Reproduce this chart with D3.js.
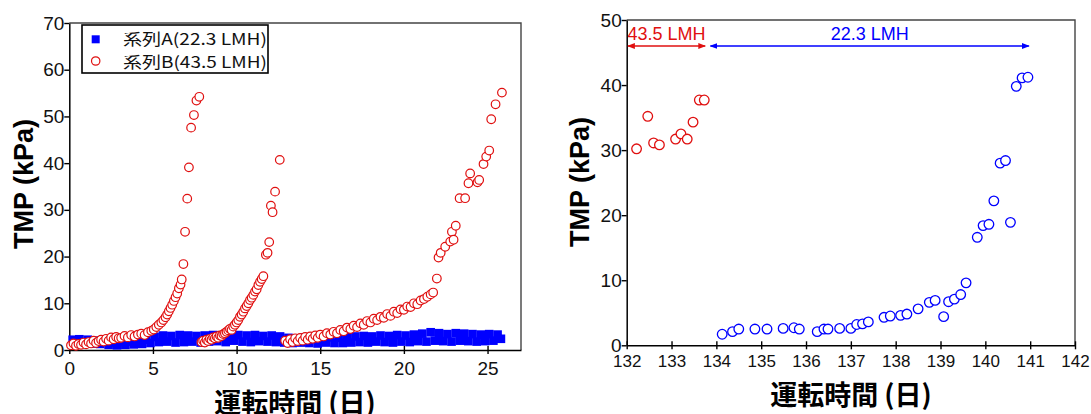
<!DOCTYPE html>
<html>
<head>
<meta charset="utf-8">
<script src="https://cdn.jsdelivr.net/npm/d3@7"></script>
<style>
  body { margin: 0; background: #fff; }
  svg text { font-family: "Liberation Sans", Arial, "Noto Sans CJK JP", sans-serif; }
</style>
</head>
<body>
<svg id="chart" width="1091" height="414"></svg>
<script>
// ---- Left panel: series A (22.3 LMH), [day, TMP kPa]
const seriesA = [
  [0.2, 2.2], [0.35, 1.5], [0.6, 2.3], [0.85, 1.6], [1.1, 2.2], [1.35, 1.4], [1.6, 2.0], [1.85, 1.3],
  [2.1, 1.8], [2.35, 1.1], [2.6, 1.6], [2.85, 1.0], [3.1, 1.7], [3.35, 1.1], [3.6, 1.8], [3.85, 1.2],
  [4.1, 1.9], [4.35, 1.3], [4.6, 2.2], [4.85, 1.5], [5.1, 2.8], [5.35, 1.7], [5.6, 3.1], [5.85, 1.8],
  [6.1, 3.0], [6.35, 1.6], [6.6, 3.2], [6.85, 1.7], [7.1, 3.1], [7.35, 1.8], [7.6, 3.0], [7.85, 1.6],
  [8.1, 3.1], [8.35, 1.8], [8.6, 3.2], [8.85, 1.9], [9.1, 3.0], [9.35, 1.7], [9.6, 3.3], [9.85, 2.0],
  [10.1, 3.2], [10.35, 1.8], [10.6, 3.1], [10.85, 1.7], [11.1, 3.2], [11.35, 1.9], [11.6, 3.0], [11.85, 1.8],
  [12.1, 3.1], [12.35, 1.7], [12.6, 2.9], [12.85, 1.6], [13.1, 2.6], [13.35, 1.5], [13.6, 2.5], [13.85, 1.6],
  [14.1, 2.7], [14.35, 1.5], [14.6, 2.5], [14.85, 1.4], [15.1, 2.6], [15.35, 1.6], [15.6, 2.7], [15.85, 1.5],
  [16.1, 2.6], [16.35, 1.5], [16.6, 2.8], [16.85, 1.6], [17.1, 2.9], [17.35, 1.7], [17.6, 3.0], [17.85, 1.6],
  [18.1, 2.9], [18.35, 1.8], [18.6, 3.1], [18.85, 1.7], [19.1, 3.0], [19.35, 1.6], [19.6, 3.2], [19.85, 1.8],
  [20.1, 3.1], [20.35, 1.7], [20.6, 3.3], [20.85, 1.9], [21.1, 3.5], [21.35, 1.8], [21.6, 3.8], [21.85, 2.0],
  [22.1, 3.6], [22.35, 1.9], [22.6, 3.4], [22.85, 1.8], [23.1, 3.6], [23.35, 2.0], [23.6, 3.5], [23.85, 1.9],
  [24.1, 3.4], [24.35, 1.8], [24.6, 3.3], [24.85, 1.9], [25.1, 3.4], [25.35, 2.0], [25.6, 3.3], [25.8, 2.4]
];

// ---- Left panel: series B (43.5 LMH), three fouling cycles
const seriesB = [
  // cycle 1
  [0.1, 1.0], [0.25, 1.4], [0.4, 0.9], [0.55, 1.3], [0.7, 1.1], [0.85, 1.6], [1.0, 1.2], [1.15, 1.7],
  [1.3, 1.4], [1.45, 2.0], [1.6, 1.5], [1.75, 1.9], [1.9, 2.2], [2.05, 1.8], [2.2, 2.4], [2.35, 2.0],
  [2.5, 2.7], [2.65, 2.3], [2.8, 2.8], [2.95, 2.5], [3.1, 2.6], [3.3, 3.0], [3.5, 2.7], [3.7, 3.2],
  [3.9, 2.9], [4.1, 3.3], [4.3, 3.5], [4.5, 3.2], [4.7, 3.8], [4.9, 4.1], [5.05, 4.4], [5.2, 4.9],
  [5.35, 5.4], [5.5, 5.9], [5.62, 6.4], [5.75, 7.0], [5.85, 7.6], [5.95, 8.3], [6.05, 9.0], [6.15, 9.7],
  [6.25, 10.5], [6.35, 11.3], [6.45, 12.1], [6.55, 13.2], [6.65, 14.0], [6.72, 15.1], [6.82, 18.4],
  [6.92, 25.3], [7.05, 32.4], [7.15, 39.1], [7.28, 47.6], [7.45, 50.3], [7.6, 53.4], [7.77, 54.2],
  // cycle 2
  [7.9, 1.7], [8.0, 2.0], [8.1, 1.6], [8.2, 2.2], [8.3, 1.9], [8.4, 2.4], [8.5, 2.2], [8.6, 2.7],
  [8.7, 2.5], [8.8, 2.9], [8.9, 2.6], [9.0, 3.1], [9.1, 3.0], [9.2, 3.4], [9.3, 3.6], [9.4, 3.9],
  [9.5, 4.2], [9.6, 4.5], [9.7, 4.3], [9.8, 5.0], [9.9, 5.4], [10.0, 5.9], [10.1, 6.4], [10.2, 7.1],
  [10.3, 7.6], [10.4, 8.2], [10.5, 8.9], [10.6, 9.4], [10.7, 10.0], [10.8, 10.7], [10.9, 11.2], [11.0, 11.8],
  [11.1, 12.5], [11.2, 13.0], [11.3, 13.9], [11.4, 14.6], [11.5, 15.2], [11.6, 15.8], [11.75, 20.4],
  [11.85, 20.8], [11.95, 23.1], [12.05, 30.9], [12.15, 29.5], [12.3, 33.9], [12.58, 40.7],
  // cycle 3
  [12.9, 2.0], [13.05, 1.5], [13.2, 2.3], [13.35, 1.7], [13.5, 2.5], [13.65, 1.9], [13.8, 2.6], [13.95, 2.0],
  [14.1, 2.8], [14.25, 2.2], [14.4, 2.9], [14.55, 2.4], [14.7, 3.1], [14.85, 2.6], [15.0, 3.3], [15.2, 2.9],
  [15.4, 3.6], [15.6, 3.3], [15.8, 3.9], [16.0, 3.6], [16.2, 4.3], [16.4, 4.0], [16.6, 4.8], [16.8, 4.5],
  [17.0, 5.2], [17.2, 4.9], [17.4, 5.7], [17.6, 5.4], [17.8, 6.2], [18.0, 5.9], [18.2, 6.7], [18.4, 6.4],
  [18.6, 7.1], [18.8, 6.9], [19.0, 7.7], [19.2, 7.3], [19.4, 8.2], [19.6, 7.9], [19.8, 8.7], [20.0, 8.6],
  [20.2, 9.3], [20.4, 9.2], [20.6, 10.0], [20.8, 9.8], [21.0, 10.6], [21.2, 10.9], [21.4, 11.4], [21.6, 11.9],
  [21.75, 12.3], [21.97, 15.3], [22.07, 19.8], [22.2, 20.8], [22.47, 22.1], [22.77, 23.2], [22.87, 25.3],
  [22.97, 23.6], [23.1, 26.6], [23.33, 32.5], [23.66, 32.5], [23.86, 35.7], [23.96, 37.8], [24.4, 35.9],
  [24.5, 36.4], [24.76, 39.8], [24.92, 41.4], [25.1, 42.7], [25.22, 49.4], [25.48, 52.6], [25.86, 55.1]
];

// ---- Right panel: days 132-142
const rightRed = [
  [132.22, 30.2], [132.47, 35.2], [132.6, 31.1], [132.73, 30.8], [133.09, 31.7],
  [133.21, 32.5], [133.35, 31.7], [133.48, 34.3], [133.62, 37.7], [133.73, 37.7]
];
const rightBlue = [
  [134.13, 1.7], [134.36, 2.1], [134.5, 2.5], [134.86, 2.5], [135.13, 2.5], [135.49, 2.6],
  [135.73, 2.7], [135.85, 2.5], [136.25, 2.1], [136.4, 2.5], [136.49, 2.5], [136.75, 2.6],
  [137.0, 2.6], [137.13, 3.2], [137.26, 3.3], [137.39, 3.6], [137.74, 4.3], [137.88, 4.5],
  [138.11, 4.6], [138.25, 4.8], [138.5, 5.6], [138.75, 6.6], [138.88, 6.9], [139.07, 4.4],
  [139.18, 6.7], [139.31, 7.1], [139.45, 7.8], [139.57, 9.6], [139.82, 16.6], [139.95, 18.4],
  [140.08, 18.6], [140.19, 22.2], [140.33, 28.0], [140.45, 28.4], [140.56, 18.9],
  [140.69, 39.8], [140.82, 41.1], [140.95, 41.2]
];

// flux periods annotated above the right panel
const fluxLabels = ["43.5 LMH", "22.3 LMH"];
const fluxStart = [132.03, 133.87];
const fluxEnd = [133.75, 140.97];
const fluxLevel = 46;

const legendLabels = ["系列A(22.3 LMH)", "系列B(43.5 LMH)"];
const leftXTicks = [0, 5, 10, 15, 20, 25];
const leftYTicks = [0, 10, 20, 30, 40, 50, 60, 70];
const rightXTicks = d3.range(132, 143);
const rightYTicks = [0, 10, 20, 30, 40, 50];

const RED = "#e01010";
const BLUE = "#0000ff";

const svg = d3.select("#chart");

// Arrowhead markers for the flux annotations
const defs = svg.append("defs");
[["red", RED], ["blue", BLUE]].forEach(([id, c]) => {
  defs.append("marker")
    .attr("id", `arrow-${id}`)
    .attr("viewBox", "0 -4 8 8")
    .attr("refX", 7)
    .attr("markerWidth", 6)
    .attr("markerHeight", 6)
    .attr("orient", "auto-start-reverse")
    .append("path")
    .attr("d", "M0,-3L8,0L0,3Z")
    .attr("fill", c);
});

function panel(x, y, xTicks, yTicks, xFont, xPad) {
  const [x0, x1] = x.range();
  const [y0, y1] = y.range();

  // Frame (top and right)
  svg.append("path")
    .attr("d", `M${x0},${y1}H${x1}V${y0}`)
    .attr("fill", "none")
    .attr("stroke", "#444")
    .attr("stroke-width", 1.4);

  const gx = svg.append("g")
    .attr("transform", `translate(0,${y0})`)
    .call(d3.axisBottom(x).tickValues(xTicks).tickSize(4).tickSizeOuter(0).tickPadding(xPad));
  // ticks cross the axis line
  gx.selectAll(".tick line").attr("y1", -4);
  gx.selectAll("text").attr("font-size", xFont);

  const gy = svg.append("g")
    .attr("transform", `translate(${x0},0)`)
    .call(d3.axisLeft(y).tickValues(yTicks).tickSize(5).tickSizeOuter(0).tickPadding(0));
  gy.selectAll("text").attr("font-size", 19);

  svg.selectAll(".domain").attr("stroke", "#000").attr("stroke-width", 1.5);
  svg.selectAll(".tick line").attr("stroke", "#000").attr("stroke-width", 1.4);
  svg.selectAll(".tick text").attr("fill", "#111").attr("font-family", "Liberation Sans, Arial, sans-serif");
}

function titles(cx, xBase, yx, yy) {
  svg.append("text")
    .attr("x", cx).attr("y", xBase)
    .attr("text-anchor", "middle")
    .attr("font-size", 27).attr("font-weight", "bold")
    .style("font-family", "'Noto Sans CJK JP', sans-serif")
    .text("運転時間 (日)");
  svg.append("text")
    .attr("transform", `translate(${yx},${yy}) rotate(-90)`)
    .attr("text-anchor", "middle")
    .attr("font-size", 27).attr("font-weight", "bold")
    .text("TMP (kPa)");
}

// ---------- Left panel ----------
const xL = d3.scaleLinear().domain([0, 27]).range([69.3, 521]);
const yL = d3.scaleLinear().domain([0, 70]).range([350, 23]);

panel(xL, yL, leftXTicks, leftYTicks, 19, 8);

const SQ = 8.6;
svg.append("g")
  .attr("fill", BLUE)
  .selectAll("rect")
  .data(seriesA)
  .join("rect")
  .attr("x", (d) => xL(d[0]) - SQ / 2)
  .attr("y", (d) => yL(d[1]) - SQ / 2)
  .attr("width", SQ)
  .attr("height", SQ);

svg.append("g")
  .attr("fill", "#fff")
  .attr("stroke", RED)
  .attr("stroke-width", 1.2)
  .selectAll("circle")
  .data(seriesB)
  .join("circle")
  .attr("cx", (d) => xL(d[0]))
  .attr("cy", (d) => yL(d[1]))
  .attr("r", 4.3);

// Legend
const lg = svg.append("g");
lg.append("rect")
  .attr("x", 82).attr("y", 25).attr("width", 186).attr("height", 48)
  .attr("fill", "#fff").attr("stroke", "#000").attr("stroke-width", 1.6);
lg.append("rect")
  .attr("x", 95.7 - 4).attr("y", 39.3 - 4).attr("width", 8).attr("height", 8)
  .attr("fill", BLUE);
lg.append("circle")
  .attr("cx", 95.7).attr("cy", 61).attr("r", 4.2)
  .attr("fill", "#fff").attr("stroke", RED).attr("stroke-width", 1.2);
lg.selectAll("text.lab")
  .data(legendLabels)
  .join("text")
  .attr("class", "lab")
  .attr("x", 123)
  .attr("y", (d, i) => 45 + i * 23)
  .attr("font-size", 16)
  .attr("textLength", 144)
  .attr("lengthAdjust", "spacingAndGlyphs")
  .attr("fill", "#111")
  .style("font-family", "'Noto Sans CJK JP', sans-serif")
  .text((d) => d);

titles(295, 413, 33, 184);

// ---------- Right panel ----------
const xR = d3.scaleLinear().domain([132, 142]).range([626.7, 1075]);
const yR = d3.scaleLinear().domain([0, 50]).range([345.3, 20]);

panel(xR, yR, rightXTicks, rightYTicks, 17, 6);

svg.append("g")
  .attr("fill", "#fff")
  .attr("stroke", RED)
  .attr("stroke-width", 1.3)
  .selectAll("circle")
  .data(rightRed)
  .join("circle")
  .attr("cx", (d) => xR(d[0]))
  .attr("cy", (d) => yR(d[1]))
  .attr("r", 4.8);

svg.append("g")
  .attr("fill", "#fff")
  .attr("stroke", BLUE)
  .attr("stroke-width", 1.3)
  .selectAll("circle")
  .data(rightBlue)
  .join("circle")
  .attr("cx", (d) => xR(d[0]))
  .attr("cy", (d) => yR(d[1]))
  .attr("r", 4.8);

// Flux period arrows
fluxLabels.forEach((label, i) => {
  const c = i === 0 ? RED : BLUE;
  const id = i === 0 ? "red" : "blue";
  svg.append("line")
    .attr("x1", xR(fluxStart[i])).attr("x2", xR(fluxEnd[i]))
    .attr("y1", yR(fluxLevel)).attr("y2", yR(fluxLevel))
    .attr("stroke", c).attr("stroke-width", 1.3)
    .attr("marker-start", `url(#arrow-${id})`)
    .attr("marker-end", `url(#arrow-${id})`);
  svg.append("text")
    .attr("x", xR((fluxStart[i] + fluxEnd[i]) / 2))
    .attr("y", yR(fluxLevel) - 6)
    .attr("text-anchor", "middle")
    .attr("font-size", 18)
    .attr("fill", c)
    .text(label);
});

titles(851, 405, 589, 182);
</script>
</body>
</html>
